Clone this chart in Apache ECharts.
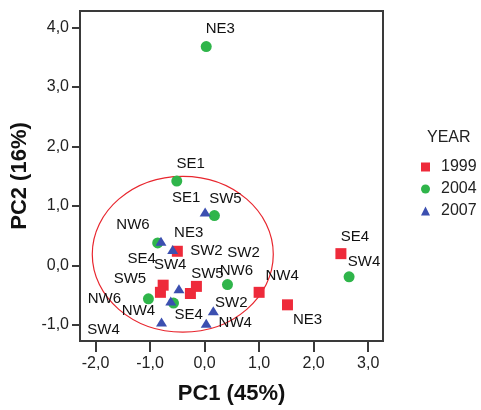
<!DOCTYPE html>
<html><head><meta charset="utf-8">
<script src="https://cdn.jsdelivr.net/npm/echarts@6/dist/echarts.min.js"></script>
<style>html,body{margin:0;padding:0;background:#fff}#c{width:481px;height:410px}</style>
</head><body><div id="c"></div>
<script>
// ---- data ----
const years = ['1999', '2004', '2007'];
const sites1999 = ['NE3', 'SE4', 'NW4', 'SE1', 'SW2', 'SW4', 'SW5', 'NW6'];
const pc1_1999 = [1.52, 2.50, 1.00, -0.50, -0.15, -0.76, -0.26, -0.81];
const pc2_1999 = [-0.66, 0.20, -0.45, 0.24, -0.35, -0.33, -0.47, -0.45];
const sites2004 = ['NE3', 'SE1', 'SW5', 'SW4', 'SE4', 'SW2', 'NW4', 'NW6'];
const pc1_2004 = [0.03, -0.51, 0.18, 2.65, -0.86, 0.42, -0.57, -1.03];
const pc2_2004 = [3.68, 1.42, 0.84, -0.19, 0.38, -0.32, -0.63, -0.56];
const sites2007 = ['SE1', 'NW6', 'NE3', 'SW5', 'SE4', 'SW4', 'NW4', 'SW2'];
const pc1_2007 = [0.01, -0.80, -0.585, -0.47, -0.62, -0.79, 0.03, 0.16];
const pc2_2007 = [0.90, 0.41, 0.27, -0.39, -0.595, -0.95, -0.97, -0.76];
const xTickValues = [-2, -1, 0, 1, 2, 3];
const yTickValues = [-1, 0, 1, 2, 3, 4];
const ellipseCenter = [-0.40, 0.19];
const ellipseRadii = [1.66, 1.31];

// ---- styling (label placement in pixels, relative to each mark) ----
const labelOff1999 = [[20, 15], [14, -17], [23, -16], null, [10, -36], [7, -20], [17, -20], [76, -21]];
const labelOff2004 = [[14, -18], [14, -17], [11, -17], [15, -15], [-16, 16], [16, -32], [-35, 8], [-44, 0]];
const labelOff2007 = [[-19, -14], [-28, -16], [16, -17], [-49, -10], [18, 14], [-58, 8], [29, 0], [18, -8]];
const labelOffs = [labelOff1999, labelOff2004, labelOff2007];

const FONT = '"Liberation Sans", Arial, sans-serif';
const colors = ['#ee2a3a', '#2fb54a', '#3b4fb0'];
const symbols = ['rect', 'circle', 'triangle'];
const symSizes = [[11, 11], [11, 11], [11, 9]];

function build(sites, xs, ys, offs) {
  return sites.map((s, i) => ({
    name: s,
    value: [xs[i], ys[i]],
    label: { show: !!offs[i] }
  }));
}
const seriesData = [
  build(sites1999, pc1_1999, pc2_1999, labelOff1999),
  build(sites2004, pc1_2004, pc2_2004, labelOff2004),
  build(sites2007, pc1_2007, pc2_2007, labelOff2007)
];
const fmt = v => v.toFixed(1).replace('.', ',');

const chart = echarts.init(document.getElementById('c'), null, { renderer: 'canvas' });
chart.setOption({
  animation: false,
  backgroundColor: '#fff',
  textStyle: { fontFamily: FONT },
  grid: { left: 80, right: 98, top: 11, bottom: 67, show: true, borderColor: '#3a3a3a', borderWidth: 2, containLabel: false },
  title: { text: 'YEAR', left: 427, top: 130, padding: 0, textStyle: { fontFamily: FONT, fontSize: 16, fontWeight: 'normal', color: '#222' } },
  legend: {
    data: years, orient: 'vertical', left: 421, top: 159, padding: 0,
    itemWidth: 9, itemHeight: 9, itemGap: 6,
    textStyle: { fontFamily: FONT, fontSize: 16, color: '#222', padding: [0, 0, 0, 6] }
  },
  xAxis: {
    type: 'value', min: -2.285, max: 3.272,
    name: 'PC1 (45%)', nameLocation: 'middle', nameGap: 42,
    nameTextStyle: { fontFamily: FONT, fontSize: 22, fontWeight: 'bold', color: '#111' },
    axisLine: { show: true, onZero: false, lineStyle: { color: '#3a3a3a', width: 2 } },
    axisTick: { show: true, length: 11, customValues: xTickValues, lineStyle: { color: '#3a3a3a', width: 2 } },
    axisLabel: { customValues: xTickValues, formatter: fmt, margin: 15, fontFamily: FONT, fontSize: 16, color: '#222' },
    splitLine: { show: false }
  },
  yAxis: {
    type: 'value', min: -1.268, max: 4.278,
    name: 'PC2 (16%)', nameLocation: 'middle', nameGap: 43,
    nameTextStyle: { fontFamily: FONT, fontSize: 22, fontWeight: 'bold', color: '#111' },
    axisLine: { show: true, onZero: false, lineStyle: { color: '#3a3a3a', width: 2 } },
    axisTick: { show: true, length: 8, customValues: yTickValues, lineStyle: { color: '#3a3a3a', width: 2 } },
    axisLabel: { customValues: yTickValues, formatter: fmt, margin: 11, fontFamily: FONT, fontSize: 16, color: '#222' },
    splitLine: { show: false }
  },
  series: [
    {
      type: 'custom', coordinateSystem: 'cartesian2d', silent: true, z: 1, clip: false,
      encode: { x: 0, y: 1 },
      renderItem: (params, api) => {
        const c = api.coord([api.value(0), api.value(1)]);
        const s = api.size([api.value(2), api.value(3)]);
        return { type: 'ellipse', shape: { cx: c[0], cy: c[1], rx: s[0], ry: s[1] },
                 style: { fill: null, stroke: '#e8262e', lineWidth: 1.2 } };
      },
      data: [[ellipseCenter[0], ellipseCenter[1], ellipseRadii[0], ellipseRadii[1]]]
    }
  ].concat(years.map((y, k) => ({
    name: y, type: 'scatter', z: 3 + k,
    symbol: symbols[k], symbolSize: symSizes[k],
    itemStyle: { color: colors[k], opacity: 1 },
    label: { show: true, position: 'inside', formatter: '{b}', fontFamily: FONT, fontSize: 15, color: '#111' },
    labelLayout: (p) => {
      const o = labelOffs[k][p.dataIndex] || [0, 0];
      return { dx: o[0], dy: o[1], hideOverlap: false };
    },
    data: seriesData[k]
  })))
});
</script></body></html>
